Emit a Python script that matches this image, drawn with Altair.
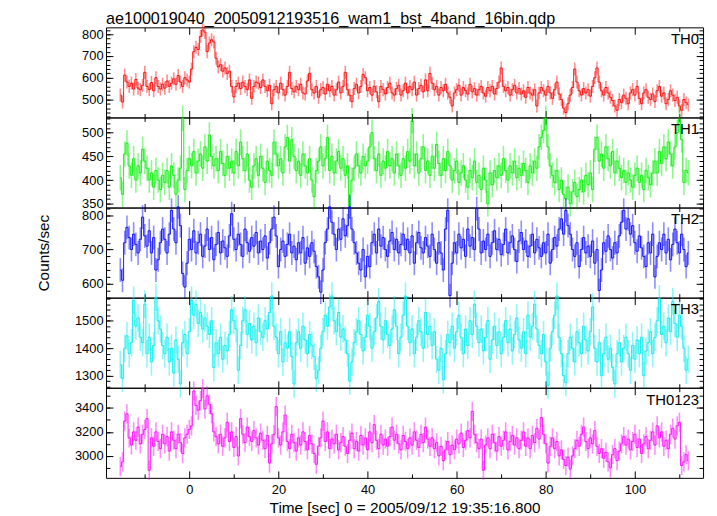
import altair as alt
import pandas as pd

T_START = -15.5
T_STEP = 0.5

TH0 = [
 520, 488, 612, 580, 560, 575, 548, 592, 552, 545,
 565, 625, 560, 545, 578, 540, 600, 560, 548, 570,
 552, 585, 560, 575, 595, 570, 610, 580, 560, 600,
 590, 580, 640, 720, 740, 730, 790, 820, 810, 720,
 760, 775, 765, 690, 650, 660, 630, 645, 620, 630,
 560, 512, 560, 575, 550, 580, 560, 545, 590, 505,
 560, 580, 575, 555, 590, 560, 540, 565, 480, 545,
 560, 530, 575, 545, 520, 560, 625, 550, 535, 560,
 545, 570, 530, 525, 585, 620, 545, 530, 560, 510,
 545, 555, 525, 570, 540, 560, 520, 545, 580, 530,
 560, 625, 545, 520, 490, 550, 570, 530, 560, 615,
 600, 540, 555, 520, 560, 535, 490, 560, 545, 525,
 555, 575, 530, 520, 550, 565, 520, 540, 575, 530,
 560, 545, 580, 520, 550, 565, 535, 590, 540, 620,
 575, 545, 560, 520, 555, 540, 570, 530, 510, 470,
 530, 545, 565, 520, 555, 540, 525, 570, 535, 550,
 520, 545, 560, 530, 515, 555, 540, 560, 525, 550,
 580, 645, 560, 540, 555, 520, 545, 565, 530, 550,
 525, 540, 510, 555, 530, 520, 545, 470, 530, 555,
 540, 520, 560, 530, 505, 545, 580, 525, 500, 460,
 440, 480, 520, 555, 640, 580, 540, 520, 550, 530,
 545, 515, 560, 600, 645, 580, 540, 520, 555, 530,
 510, 495, 470, 450, 500, 485, 520, 505, 480, 530,
 545, 520, 560, 505, 480, 530, 545, 510, 500, 525,
 490, 540, 560, 515, 530, 480, 500, 540, 520, 495,
 510, 470, 450, 500, 485, 475,
]

TH1 = [
 405, 370, 455, 478, 430, 410, 445, 400, 430, 415,
 465, 440, 425, 400, 415, 385, 420, 400, 380, 410,
 395, 420, 385, 430, 410, 370, 400, 425, 530, 380,
 420, 445, 430, 460, 415, 440, 455, 425, 470, 440,
 495, 450, 430, 445, 420, 460, 435, 410, 450, 425,
 440, 415, 460, 430, 480, 445, 420, 455, 400, 385,
 430, 445, 410, 450, 425, 395, 440, 420, 410, 480,
 455, 430, 445, 415, 470, 490, 440, 485, 450, 420,
 440, 410, 455, 430, 415, 445, 400, 365, 420, 440,
 470, 430, 445, 490, 420, 450, 415, 440, 460, 425,
 445, 410, 430, 345, 400, 425, 455, 430, 415, 450,
 430, 440, 470, 500, 445, 420, 455, 410, 440, 425,
 460, 430, 445, 415, 455, 430, 410, 445, 425, 460,
 440, 525, 430, 455, 415, 445, 470, 420, 440, 410,
 450, 425, 475, 435, 410, 445, 420, 460, 430, 400,
 420, 440, 395, 415, 430, 400, 385, 420, 405, 440,
 395, 410, 380, 425, 400, 350, 415, 390, 420, 405,
 430, 410, 445, 420, 400, 430, 415, 440, 405, 425,
 410, 435, 420, 395, 430, 415, 440, 425, 470, 490,
 505, 530, 470, 430, 410, 395, 420, 380, 400, 370,
 360, 385, 350, 375, 395, 365, 380, 400, 375, 410,
 390, 415, 380, 465, 490, 440, 455, 425, 470, 445,
 430, 460, 415, 440, 425, 405, 420, 395, 415, 400,
 385, 410, 425, 395, 410, 380, 420, 405, 390, 415,
 440, 415, 460, 435, 470, 445, 480, 455, 430, 470,
 500, 528, 485, 395, 420, 415,
]

TH2 = [
 640, 610, 720, 765, 735, 700, 745, 715, 690, 730,
 795, 740, 710, 755, 690, 735, 640, 670, 720, 760,
 730, 690, 745, 815, 760, 720, 825, 770, 630, 590,
 660, 730, 700, 755, 690, 720, 745, 680, 710, 760,
 700, 735, 670, 715, 750, 690, 725, 705, 680, 740,
 805, 730, 700, 745, 715, 680, 760, 720, 695, 735,
 710, 750, 690, 725, 700, 740, 675, 720, 760, 795,
 740, 650, 700, 725, 680, 715, 745, 690, 710, 670,
 720, 690, 735, 660, 705, 680, 720, 695, 650, 620,
 575, 640, 720, 760, 825, 780, 745, 700, 760, 730,
 790, 740, 770, 825, 760, 720, 690, 660, 640, 700,
 620, 680, 650, 720, 745, 690, 760, 710, 735, 700,
 680, 725, 750, 700, 730, 690, 715, 745, 700, 730,
 690, 740, 660, 720, 750, 705, 690, 735, 710, 680,
 745, 700, 660, 720, 690, 640, 760, 815, 565, 660,
 720, 690, 745, 705, 730, 680, 760, 710, 735, 700,
 820, 760, 690, 725, 700, 745, 680, 720, 755, 700,
 730, 685, 715, 760, 690, 720, 740, 700, 665, 725,
 750, 700, 725, 680, 710, 745, 690, 730, 705, 680,
 720, 690, 745, 660, 700, 735, 710, 760, 790, 745,
 815, 770, 745, 700, 680, 720, 650, 700, 735, 690,
 710, 680, 725, 660, 700, 580, 640, 720, 695, 740,
 700, 675, 720, 690, 740, 780, 815, 760, 790, 745,
 770, 720, 695, 740, 705, 680, 650, 720, 690, 745,
 620, 680, 720, 700, 745, 690, 730, 670, 715, 760,
 720, 690, 745, 700, 650, 690,
]

TH3 = [
 1340, 1290, 1400, 1445, 1380, 1420, 1575, 1480, 1510, 1440,
 1420, 1560, 1380, 1440, 1350, 1410, 1585, 1500, 1470, 1410,
 1380, 1440, 1350, 1400, 1310, 1430, 1360, 1270, 1420, 1450,
 1380, 1460, 1575, 1520, 1560, 1490, 1530, 1470, 1510, 1480,
 1450, 1500, 1330, 1420, 1380, 1440, 1360, 1410, 1390, 1450,
 1540, 1500, 1470, 1320, 1410, 1500, 1540, 1450, 1490, 1430,
 1480, 1420, 1510, 1460, 1440, 1500, 1470, 1530, 1590, 1480,
 1440, 1380, 1460, 1350, 1420, 1400, 1460, 1370, 1270, 1420,
 1460, 1400, 1480, 1430, 1380, 1450, 1410, 1370, 1290, 1320,
 1400, 1460, 1520, 1480, 1550, 1590, 1500, 1460, 1530, 1440,
 1470, 1430, 1380, 1280, 1350, 1420, 1460, 1500, 1450, 1390,
 1440, 1520, 1480, 1400, 1460, 1510, 1570, 1480, 1430, 1500,
 1450, 1410, 1470, 1540, 1480, 1380, 1440, 1520, 1590, 1480,
 1420, 1470, 1380, 1440, 1500, 1460, 1400, 1530, 1450, 1480,
 1410, 1460, 1360, 1320, 1400, 1285, 1380, 1450, 1420, 1480,
 1400, 1460, 1520, 1440, 1380, 1470, 1410, 1500, 1450, 1560,
 1480, 1420, 1470, 1390, 1440, 1500, 1360, 1430, 1480, 1410,
 1460, 1380, 1440, 1500, 1420, 1470, 1390, 1450, 1510, 1430,
 1400, 1460, 1380, 1520, 1440, 1480, 1560, 1470, 1410, 1380,
 1450, 1350, 1265, 1400, 1460, 1520, 1590, 1440, 1380, 1300,
 1275, 1380, 1440, 1400, 1350, 1460, 1420, 1380, 1480, 1430,
 1390, 1460, 1550, 1400, 1350, 1420, 1300, 1380, 1440, 1360,
 1400, 1330, 1270, 1380, 1420, 1350, 1400, 1440, 1380, 1320,
 1410, 1360, 1430, 1380, 1440, 1300, 1390, 1420, 1460, 1380,
 1440, 1500, 1580, 1450, 1480, 1420, 1510, 1460, 1570, 1490,
 1440, 1520, 1480, 1400, 1320, 1360,
]

TH0123 = [
 2910, 2950, 3290, 3350, 3150, 3090, 3200, 3130, 3240, 3100,
 3180, 3220, 3310, 2880, 3150, 3080, 3200, 3120, 3060, 3180,
 3100, 3160, 3040, 3200, 3130, 3060, 3180, 3110, 3020, 3150,
 3180, 3220, 3250, 3540, 3420, 3380, 3460, 3560, 3390, 3500,
 3430, 3350, 3200, 3160, 3100, 3180, 3080, 3150, 3280, 3120,
 3200, 3070, 3160, 3000, 3310, 3180, 3110, 3240, 3160, 3120,
 3210, 3150, 3090, 3190, 3130, 3060, 3170, 2940, 3100, 3180,
 3410, 3150, 3090, 3200, 3340, 3120, 3060, 3180, 3110, 3040,
 3150, 3090, 3200, 3120, 3050, 3170, 3100, 3020, 2930, 3080,
 3150, 3290, 3120, 3200, 3060, 3140, 3100, 3180, 3050, 3110,
 3160, 3080, 3020, 3130, 3190, 3060, 3120, 3040, 3170, 3090,
 3150, 3050, 3200, 3110, 3260, 3130, 3060, 3180, 3090, 3140,
 3080, 3160, 3240, 3130, 3180, 3100, 3050, 3170, 3120, 3060,
 3150, 3090, 3200, 3130, 3070, 3180, 3110, 3240, 3140, 3080,
 3150, 3060, 3110, 3000, 3080, 2960, 3050, 3120, 3010, 3090,
 3050, 3140, 3100, 3190, 3070, 3130, 3210, 3150, 3370, 3180,
 3110, 3060, 3140, 2880, 3090, 3150, 3060, 3180, 3110, 3040,
 3160, 3080, 3130, 3200, 3050, 3120, 3170, 3090, 3150, 3060,
 3130, 3200, 3080, 3150, 3060, 3170, 3110, 3230, 3140, 3320,
 3180, 3100, 2940, 3080, 3150, 3060, 3120, 3000, 3050, 2970,
 2920, 2990, 2890, 3000, 3060, 3130, 3080, 3180, 3240, 3120,
 3060, 3150, 3100, 3210, 3080, 3020, 3060, 2980, 3030, 2950,
 2900, 3010, 3060, 2960, 3040, 3100, 3160, 3090, 3140, 3050,
 3120, 3180, 3070, 3140, 3020, 3100, 3160, 3060, 3130, 3200,
 3090, 3250, 3150, 3200, 3080, 3130, 3060, 3180, 3230, 3140,
 3250, 3280, 2920, 2950, 3010, 2960,
]

SERIES = [TH0, TH1, TH2, TH3, TH0123]
NAMES = ["TH0", "TH1", "TH2", "TH3", "TH0123"]
COLORS = ["#ff0000", "#00ee00", "#0000ff", "#00eeee", "#ff00ff"]
ERRS = [30, 27, 35, 50, 80]
YDOMS = [[417, 832], [342, 532], [559, 823], [1256, 1584], [2817, 3567]]
YMAJOR = [[500, 600, 700, 800], [350, 400, 450, 500], [600, 700, 800],
          [1300, 1400, 1500], [3000, 3200, 3400]]
YMINOR = [list(range(420, 840, 20)), list(range(350, 540, 10)),
          list(range(560, 840, 20)), list(range(1260, 1600, 20)),
          list(range(2900, 3600, 100))]
XMAJOR = [0, 20, 40, 60, 80, 100]
XMINOR = [-10, 10, 30, 50, 70, 90, 110]
XDOM = [-18.7, 115.3]
TITLE = "ae100019040_20050912193516_wam1_bst_4band_16bin.qdp"
XTITLE = "Time [sec] 0 = 2005/09/12 19:35:16.800"
YTITLE = "Counts/sec"

W, H = 603, 91
FONT = "Liberation Sans"
MAJ, MIN = 7, 4

AX = dict(grid=False, domain=False, tickColor="black", tickWidth=1,
          labelColor="black", labelFont=FONT, labelFontSize=13,
          titleFont=FONT, titleFontSize=15.5, titleColor="black",
          titleFontWeight="normal")


def make_panel(k):
    vals = SERIES[k]
    df = pd.DataFrame({"t": [T_START + T_STEP * i for i in range(len(vals))],
                       "v": vals})
    df["lo"] = df["v"] - ERRS[k]
    df["hi"] = df["v"] + ERRS[k]
    last = k == len(SERIES) - 1
    xsc = alt.Scale(domain=XDOM, nice=False, zero=False)
    ysc = alt.Scale(domain=YDOMS[k], nice=False, zero=False)

    xb = alt.Axis(orient="bottom", values=XMAJOR, offset=-MAJ, tickSize=MAJ,
                  labels=last, labelPadding=6, format="d",
                  title=XTITLE if last else None, titlePadding=4, **AX)
    xt = alt.Axis(orient="top", values=XMAJOR, offset=-MAJ, tickSize=MAJ,
                  labels=False, title=None, **AX)
    xbm = alt.Axis(orient="bottom", values=XMINOR, offset=-MIN, tickSize=MIN,
                   labels=False, title=None, **AX)
    xtm = alt.Axis(orient="top", values=XMINOR, offset=-MIN, tickSize=MIN,
                   labels=False, title=None, **AX)
    yl = alt.Axis(orient="left", values=YMAJOR[k], offset=-MAJ, tickSize=MAJ,
                  labelPadding=3, format="d",
                  title=YTITLE if k == 2 else None, titlePadding=30, **AX)
    yr = alt.Axis(orient="right", values=YMAJOR[k], offset=-MAJ, tickSize=MAJ,
                  labels=False, title=None, **AX)
    ylm = alt.Axis(orient="left", values=YMINOR[k], offset=-MIN, tickSize=MIN,
                   labels=False, title=None, **AX)
    yrm = alt.Axis(orient="right", values=YMINOR[k], offset=-MIN, tickSize=MIN,
                   labels=False, title=None, **AX)

    base = alt.Chart(df)
    err = base.mark_rule(color=COLORS[k], opacity=0.45, strokeWidth=1.6).encode(
        x=alt.X("t:Q", scale=xsc, axis=xb),
        y=alt.Y("lo:Q", scale=ysc, axis=yl),
        y2="hi:Q")
    line = base.mark_line(color=COLORS[k], interpolate="step", strokeWidth=1,
                          opacity=0.9).encode(
        x=alt.X("t:Q", scale=xsc, axis=xt),
        y=alt.Y("v:Q", scale=ysc, axis=yr))
    m1 = base.mark_point(opacity=0).encode(
        x=alt.X("t:Q", scale=xsc, axis=xbm),
        y=alt.Y("v:Q", scale=ysc, axis=ylm))
    m2 = base.mark_point(opacity=0).encode(
        x=alt.X("t:Q", scale=xsc, axis=xtm),
        y=alt.Y("v:Q", scale=ysc, axis=yrm))
    lab = alt.Chart(pd.DataFrame({"name": [NAMES[k]]})).mark_text(
        align="right", baseline="top", font=FONT, fontSize=15, color="black"
    ).encode(x=alt.value(W - 4), y=alt.value(5), text="name:N")

    ch = alt.layer(err, line, m1, m2, lab).resolve_axis(
        x="independent", y="independent").properties(width=W, height=H)
    if k == 0:
        ch = ch.properties(title=alt.TitleParams(
            TITLE, anchor="start", frame="group", font=FONT, fontSize=16.3,
            fontWeight="normal", color="black", offset=-5))
    return ch


panels = [make_panel(k) for k in range(len(SERIES))]
chart = alt.vconcat(*panels, spacing=0, bounds="flush").properties(
    padding={"left": 28, "top": 0, "right": 5, "bottom": 0}
).configure_view(stroke="black", strokeWidth=1)

chart.save("out.html", embed_options={"renderer": "svg", "actions": False})
